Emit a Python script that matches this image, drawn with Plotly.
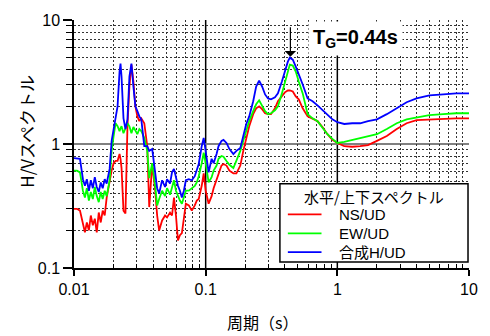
import math
import plotly.graph_objects as go

# Period (s) and H/V spectral ratios
period = [0.0100, 0.01053, 0.01110, 0.01169, 0.01210, 0.01252, 0.01297, 0.01342, 0.01390, 0.01439,
          0.01489, 0.01542, 0.01596, 0.01652, 0.01711, 0.01771, 0.01865, 0.01931, 0.01999, 0.02069,
          0.02142, 0.02218, 0.02256, 0.02296, 0.02376, 0.02460, 0.02547, 0.02636, 0.02730, 0.02826,
          0.02926, 0.03029, 0.03135, 0.03245, 0.03418, 0.03601, 0.03728, 0.03926, 0.04136, 0.04281,
          0.04432, 0.04669, 0.04918, 0.05090, 0.05362, 0.05551, 0.05746, 0.05948, 0.06158, 0.06374,
          0.06598, 0.06831, 0.07071, 0.07450, 0.07847, 0.08267, 0.08557, 0.08859, 0.09331, 0.09660,
          0.1000, 0.1053, 0.1110, 0.1149, 0.1210, 0.1252, 0.1319, 0.1366, 0.1439, 0.1515,
          0.1624, 0.1711, 0.1833, 0.1931, 0.2034, 0.2142, 0.2296, 0.2418, 0.2547, 0.2683,
          0.2826, 0.2977, 0.3135, 0.3360, 0.3539, 0.3793, 0.3995, 0.4208, 0.4357, 0.4589,
          0.4834, 0.5092, 0.5457, 0.5948, 0.6486, 0.7071, 0.7711, 0.8408, 0.9170, 1.0,
          1.129, 1.297, 1.489, 1.711, 1.999, 2.376, 2.826, 3.360, 3.995, 5.003,
          6.374, 7.986, 10.0]

ns_ud = [0.30, 0.30, 0.29, 0.229, 0.194, 0.233, 0.201, 0.265, 0.221, 0.25,
         0.194, 0.28, 0.233, 0.29, 0.265, 0.37, 0.51, 0.61, 0.70, 0.73,
         0.73, 0.83, 0.76, 0.64, 0.29, 0.275, 1.39, 2.91, 4.37, 3.19,
         2.01, 1.67, 1.53, 1.61, 1.47, 0.96, 0.31, 0.69, 0.42, 0.265,
         0.201, 0.242, 0.265, 0.256, 0.28, 0.265, 0.37, 0.265, 0.167, 0.184,
         0.191, 0.265, 0.33, 0.32, 0.29, 0.32, 0.35, 0.36, 0.46, 0.58,
         0.42, 0.33, 0.38, 0.44, 0.51, 0.58, 0.67, 0.69, 0.67, 0.61,
         0.58, 0.58, 0.67, 0.88, 1.12, 1.39, 1.74, 1.94, 2.01, 1.91,
         1.77, 1.74, 1.74, 1.94, 2.21, 2.42, 2.61, 2.70, 2.70, 2.65,
         2.42, 2.29, 1.94, 1.67, 1.61, 1.53, 1.37, 1.20, 1.08, 1.02,
         0.96, 0.95, 0.96, 0.98, 1.06, 1.16, 1.32, 1.47, 1.56, 1.58,
         1.61, 1.61, 1.61]

ew_ud = [0.61, 0.61, 0.59, 0.42, 0.37, 0.44, 0.35, 0.41, 0.36, 0.45,
         0.38, 0.34, 0.41, 0.36, 0.42, 0.38, 0.51, 0.88, 1.16, 1.47,
         1.39, 1.27, 1.34, 1.39, 1.22, 1.32, 1.47, 1.39, 1.22, 1.37,
         1.27, 1.20, 1.32, 1.27, 1.12, 0.88, 0.53, 0.70, 0.46, 0.32,
         0.36, 0.42, 0.38, 0.44, 0.39, 0.46, 0.51, 0.42, 0.38, 0.35,
         0.33, 0.38, 0.42, 0.42, 0.44, 0.46, 0.49, 0.55, 0.70, 0.85,
         0.70, 0.49, 0.54, 0.61, 0.67, 0.76, 0.80, 0.79, 0.73, 0.68,
         0.64, 0.73, 0.88, 1.06, 1.27, 1.53, 1.84, 2.09, 2.25, 2.01,
         1.84, 1.74, 1.77, 1.87, 2.01, 2.56, 3.19, 3.98, 4.37, 4.29,
         3.84, 3.19, 2.56, 1.74, 1.61, 1.53, 1.34, 1.20, 1.10, 1.02,
         1.04, 1.08, 1.12, 1.16, 1.20, 1.32, 1.47, 1.58, 1.64, 1.71,
         1.74, 1.77, 1.77]

h_ud = [0.77, 0.77, 0.76, 0.52, 0.46, 0.52, 0.42, 0.51, 0.44, 0.54,
        0.45, 0.41, 0.49, 0.44, 0.52, 0.48, 0.63, 1.06, 1.34, 1.58,
        2.01, 3.84, 4.45, 3.50, 1.61, 1.32, 1.58, 3.50, 4.45, 2.91,
        2.01, 1.84, 1.67, 1.58, 0.96, 0.96, 0.88, 0.91, 0.55, 0.44,
        0.40, 0.51, 0.45, 0.52, 0.48, 0.59, 0.63, 0.52, 0.46, 0.42,
        0.37, 0.42, 0.51, 0.52, 0.51, 0.55, 0.61, 0.69, 0.96, 1.12,
        0.88, 0.59, 0.76, 0.70, 0.83, 0.96, 1.06, 1.08, 1.02, 0.91,
        0.83, 0.88, 0.93, 1.16, 1.45, 1.67, 2.21, 2.91, 3.25, 2.91,
        2.51, 2.33, 2.29, 2.38, 2.56, 3.19, 3.84, 4.61, 4.97, 4.79,
        4.21, 3.70, 3.02, 2.33, 2.21, 2.05, 1.87, 1.71, 1.58, 1.50,
        1.45, 1.47, 1.47, 1.53, 1.58, 1.74, 1.94, 2.17, 2.33, 2.47,
        2.51, 2.56, 2.56]

series_names = ["NS/UD", "EW/UD", "合成H/UD"]
series_colors = ["#ff0000", "#00ff00", "#0000ff"]
legend_title = "水平/上下スペクトル"

x_ticks = [0.01, 0.1, 1, 10]
x_labels = ["0.01", "0.1", "1", "10"]
y_ticks = [0.1, 1, 10]
y_labels = ["0.1", "1", "10"]

TG = 0.44  # predominant period (s)

FONT = "Liberation Sans, Arial, Noto Sans CJK JP"
JP_FONT = "Noto Sans CJK JP, Liberation Sans"

fig = go.Figure()
for name, vals, color in zip(series_names, [ns_ud, ew_ud, h_ud], series_colors):
    fig.add_trace(go.Scatter(x=period, y=vals, mode="lines", name=name,
                             line=dict(color=color, width=1.8)))

minor_x = [m * 10.0 ** e for e in (-2, -1, 0) for m in range(2, 10)]
minor_y = [m * 10.0 ** e for e in (-1, 0) for m in range(2, 10)]
grid_dash = "2px,2px"

fig.update_xaxes(
    type="log", range=[-2, 1], tickmode="array", tickvals=x_ticks, ticktext=x_labels,
    ticks="outside", ticklen=6, tickwidth=1.5, tickcolor="black",
    showgrid=False, showline=True, linecolor="black", linewidth=1.5,
    tickfont=dict(family=FONT, size=16, color="black"),
    minor=dict(tickmode="array", tickvals=minor_x, ticks="inside", ticklen=4,
               tickwidth=1, tickcolor="black", showgrid=True, gridcolor="#333333",
               gridwidth=1, griddash=grid_dash),
)
fig.update_yaxes(
    type="log", range=[-1, 1], tickmode="array", tickvals=y_ticks, ticktext=y_labels,
    ticks="outside", ticklen=9, tickwidth=1.5, tickcolor="black",
    showgrid=False, showline=True, linecolor="black", linewidth=1.5,
    tickfont=dict(family=FONT, size=16, color="black"),
    minor=dict(tickmode="array", tickvals=minor_y, ticks="outside", ticklen=6,
               tickwidth=1, tickcolor="black", showgrid=True, gridcolor="#333333",
               gridwidth=1, griddash=grid_dash),
)

shapes = [
    # decade lines
    dict(type="line", xref="x", yref="paper", x0=0.1, x1=0.1, y0=0, y1=1,
         line=dict(color="black", width=1.5), layer="below"),
    dict(type="line", xref="x", yref="paper", x0=1, x1=1, y0=0, y1=1,
         line=dict(color="black", width=1.5), layer="below"),
    dict(type="line", xref="paper", yref="y", x0=0, x1=1, y0=1, y1=1,
         line=dict(color="#808080", width=2), layer="below"),
    # legend frame
    dict(type="rect", xref="paper", yref="paper", x0=0.5213, x1=0.9975, y0=0.024, y1=0.34,
         fillcolor="white", line=dict(color="black", width=1.5), layer="above"),
]

annotations = [
    dict(text=f"<b>T<sub>G</sub>={TG}s</b>", xref="paper", yref="paper",
         x=0.5915, y=0.996, xanchor="left", yanchor="top", showarrow=False,
         bgcolor="white", borderpad=4, font=dict(family=FONT, size=20, color="black")),
    dict(text="", xref="x", yref="paper", x=math.log10(TG), y=0.852,
         showarrow=True, ax=0, ay=-31, arrowhead=1, arrowsize=1.6, arrowwidth=1.2,
         arrowcolor="black"),
    dict(text="H/Vスペクトル", xref="paper", yref="paper", x=-0.12, y=0.552,
         textangle=-90, showarrow=False, xanchor="center", yanchor="middle",
         font=dict(family=JP_FONT, size=17, color="black")),
    dict(text="周期（s）", xref="paper", yref="paper", x=0.479, y=-0.216,
         showarrow=False, xanchor="center", yanchor="middle",
         font=dict(family=JP_FONT, size=16, color="black")),
    dict(text=legend_title, xref="paper", yref="paper", x=0.7594, y=0.288,
         showarrow=False, xanchor="center", yanchor="middle",
         font=dict(family=JP_FONT, size=15, color="black")),
]

# legend entries: sample line + label inside the frame
legend_rows = [0.216, 0.14, 0.064]
for name, color, yrow in zip(series_names, series_colors, legend_rows):
    shapes.append(dict(type="line", xref="paper", yref="paper", x0=0.5414, x1=0.6266,
                       y0=yrow, y1=yrow, line=dict(color=color, width=1.8), layer="above"))
    annotations.append(dict(text=name, xref="paper", yref="paper", x=0.6667, y=yrow,
                            xanchor="left", yanchor="middle", showarrow=False,
                            font=dict(family=FONT, size=15, color="black")))

fig.update_layout(
    width=490, height=336,
    margin=dict(l=74, r=17, t=18, b=68),
    paper_bgcolor="white", plot_bgcolor="white",
    shapes=shapes, annotations=annotations,
    showlegend=False,
)

fig.write_html("out.html")
